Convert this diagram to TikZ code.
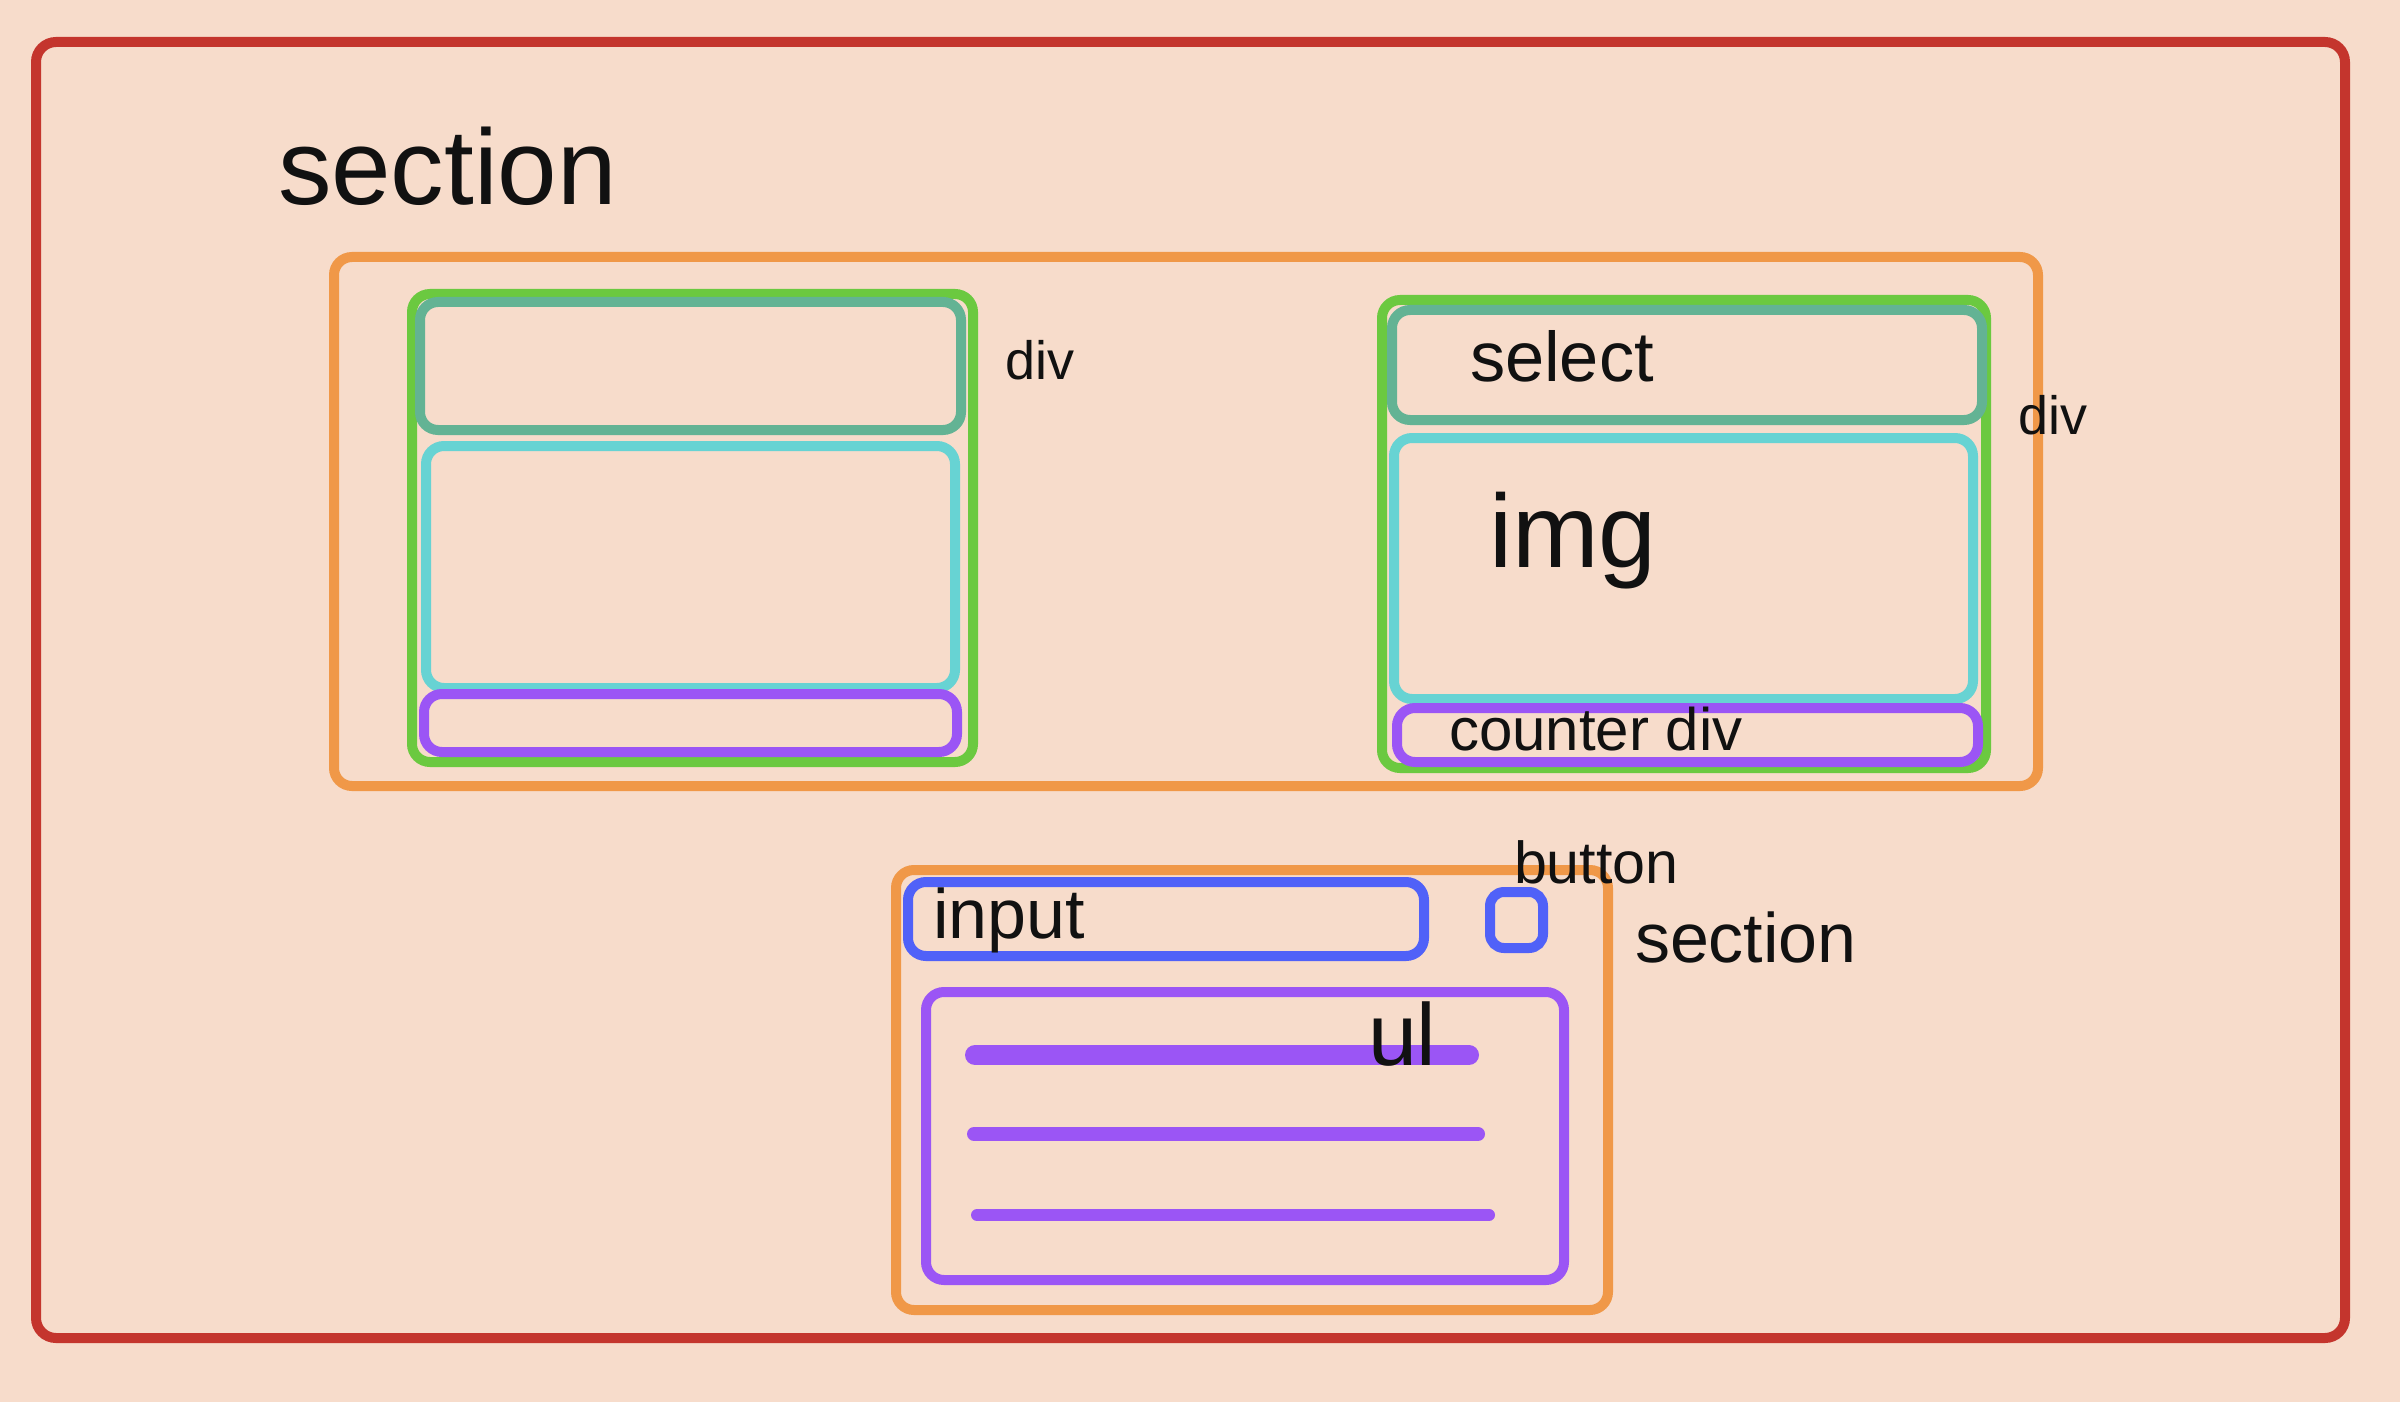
\documentclass[tikz,border=0pt]{standalone}
\usepackage{fontspec}
\setmainfont{Liberation Sans}
\definecolor{bg}{HTML}{F7DCCB}
\definecolor{cred}{HTML}{C4352D}
\definecolor{corange}{HTML}{F09848}
\definecolor{cgreen}{HTML}{6BC940}
\definecolor{cteal}{HTML}{63B394}
\definecolor{ccyan}{HTML}{67D3D3}
\definecolor{cpurple}{HTML}{9B55F5}
\definecolor{cblue}{HTML}{5061F8}
\definecolor{ink}{HTML}{111111}
\newcommand{\fsz}[1]{\fontsize{#1}{#1}\selectfont}
\begin{document}
\begin{tikzpicture}[x=0.25pt,y=-0.25pt,
  box/.style={line width=2.5pt, rounded corners=4.5pt},
  lbl/.style={anchor=base west, inner sep=0pt, outer sep=0pt, text=ink},
  bar/.style={cpurple, line cap=round}]
\fill[bg] (0,0) rectangle (2400,1402);
\useasboundingbox (0,0) rectangle (2400,1402);

% outer section
\draw[box, cred, rounded corners=5pt] (36,42) rectangle (2345,1338);

% upper section (orange)
\draw[box, corange] (334,257) rectangle (2038,786);

% left div
\draw[box, cgreen] (412,294) rectangle (973,762);
\draw[box, cteal] (420,302) rectangle (961,430);
\draw[box, ccyan] (426,446) rectangle (955,688);
\draw[box, cpurple] (424,694) rectangle (957,752);

% right div
\draw[box, cgreen] (1382,300) rectangle (1986,768);
\draw[box, cteal] (1392,310) rectangle (1982,420);
\draw[box, ccyan] (1394,438) rectangle (1973,699);
\draw[box, cpurple] (1397,708) rectangle (1978,762);

% lower section
\draw[box, corange] (896,870) rectangle (1608,1310);
\draw[box, cblue] (908,882) rectangle (1424,956);
\draw[box, cblue, rounded corners=3.5pt] (1490,892) rectangle (1543,948);
\draw[box, cpurple] (926,992) rectangle (1564,1280);

% list bars
\coordinate (b1s) at (975,1055);  \coordinate (b1e) at (1469,1055);
\coordinate (b2s) at (974,1134);  \coordinate (b2e) at (1478,1134);
\coordinate (b3s) at (977,1215);  \coordinate (b3e) at (1489,1215);
\draw[bar, line width=5pt] (b1s) -- (b1e);
\draw[bar, line width=3.5pt] (b2s) -- (b2e);
\draw[bar, line width=3pt] (b3s) -- (b3e);

% labels
\node[lbl, font=\fsz{26.75pt}] (tsec1) at (278,205) {section};
\node[lbl, font=\fsz{13.5pt}] (tdiv1) at (1005,380) {div};
\node[lbl, font=\fsz{13.5pt}] (tdiv2) at (2018,434) {div};
\node[lbl, font=\fsz{17.6pt}] (tselect) at (1470,382) {select};
\node[lbl, font=\fsz{26pt}] (timg) at (1489,567) {img};
\node[lbl, font=\fsz{15pt}] (tcounter) at (1449,750) {counter div};
\node[lbl, font=\fsz{17.5pt}] (tinput) at (933,938) {input};
\node[lbl, font=\fsz{14.8pt}] (tbutton) at (1514,883) {button};
\node[lbl, font=\fsz{17.5pt}] (tsec2) at (1635,962) {section};
\node[lbl, font=\fsz{22pt}] (tul) at (1368,1065) {ul};
\end{tikzpicture}
\end{document}
